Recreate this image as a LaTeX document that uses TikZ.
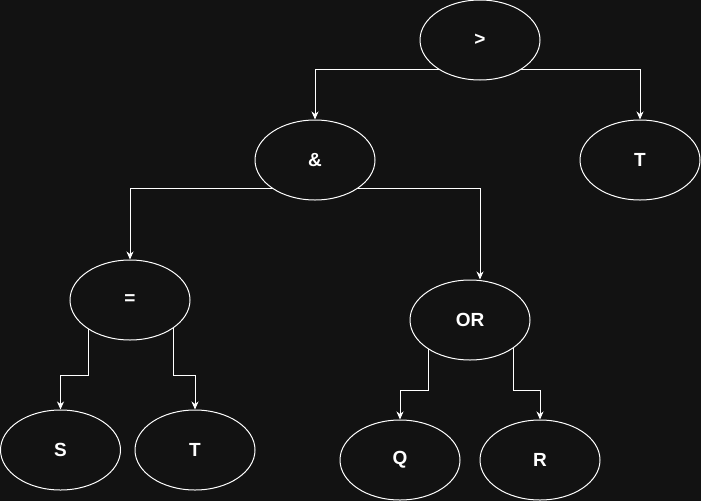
\documentclass[tikz,border=0pt]{standalone}
\usepackage{fontspec}
\setmainfont{Liberation Sans}
\usetikzlibrary{arrows.meta,calc,backgrounds,shapes.geometric}
\definecolor{bgc}{RGB}{18,18,18}
\tikzset{
  opnode/.style={ellipse, draw=white, fill=bgc, line width=1pt, minimum width=120pt, minimum height=80pt, inner sep=0pt, text=white, font=\fontsize{19}{22}\selectfont\bfseries},
  conn/.style={draw=white, line width=1pt, -{Stealth[length=8pt,width=7pt,inset=2.5pt]}}
}
\begin{document}
\begin{tikzpicture}[x=1pt,y=-1pt]
\useasboundingbox (0,0) rectangle (701,501);
\node[opnode] (gt) at (480,40) {>};
\node[opnode] (and) at (315,160) {\&};
\node[opnode] (t1) at (640,160) {T};
\node[opnode] (eq) at (130,300) {=};
\node[opnode] (or) at (470,320) {OR};
\node[opnode] (s) at (60.5,450) {S};
\node[opnode] (t2) at (195,450) {T};
\node[opnode] (q) at (400,460) {Q};
\node[opnode] (r) at (540,460) {R};
\begin{scope}[on background layer]
  \fill[bgc] (0,0) rectangle (701,501);
  \draw[conn] ($(gt.center)+(0,29)$) -| (and.north);
  \draw[conn] ($(gt.center)+(0,29)$) -| (t1.north);
  \draw[conn] ($(and.center)+(0,28)$) -| (eq.north);
  \draw[conn] ($(and.center)+(0,28)$) -| ([xshift=10pt]or.north);
  \draw[conn] ([xshift=-42pt]eq.center) -- ++(0,75) -| (s.north);
  \draw[conn] ([xshift=43pt]eq.center) -- ++(0,75) -| (t2.north);
  \draw[conn] ([xshift=-42pt]or.center) -- ++(0,70) -| (q.north);
  \draw[conn] ([xshift=43pt]or.center) -- ++(0,70) -| (r.north);
\end{scope}
\end{tikzpicture}
\end{document}
